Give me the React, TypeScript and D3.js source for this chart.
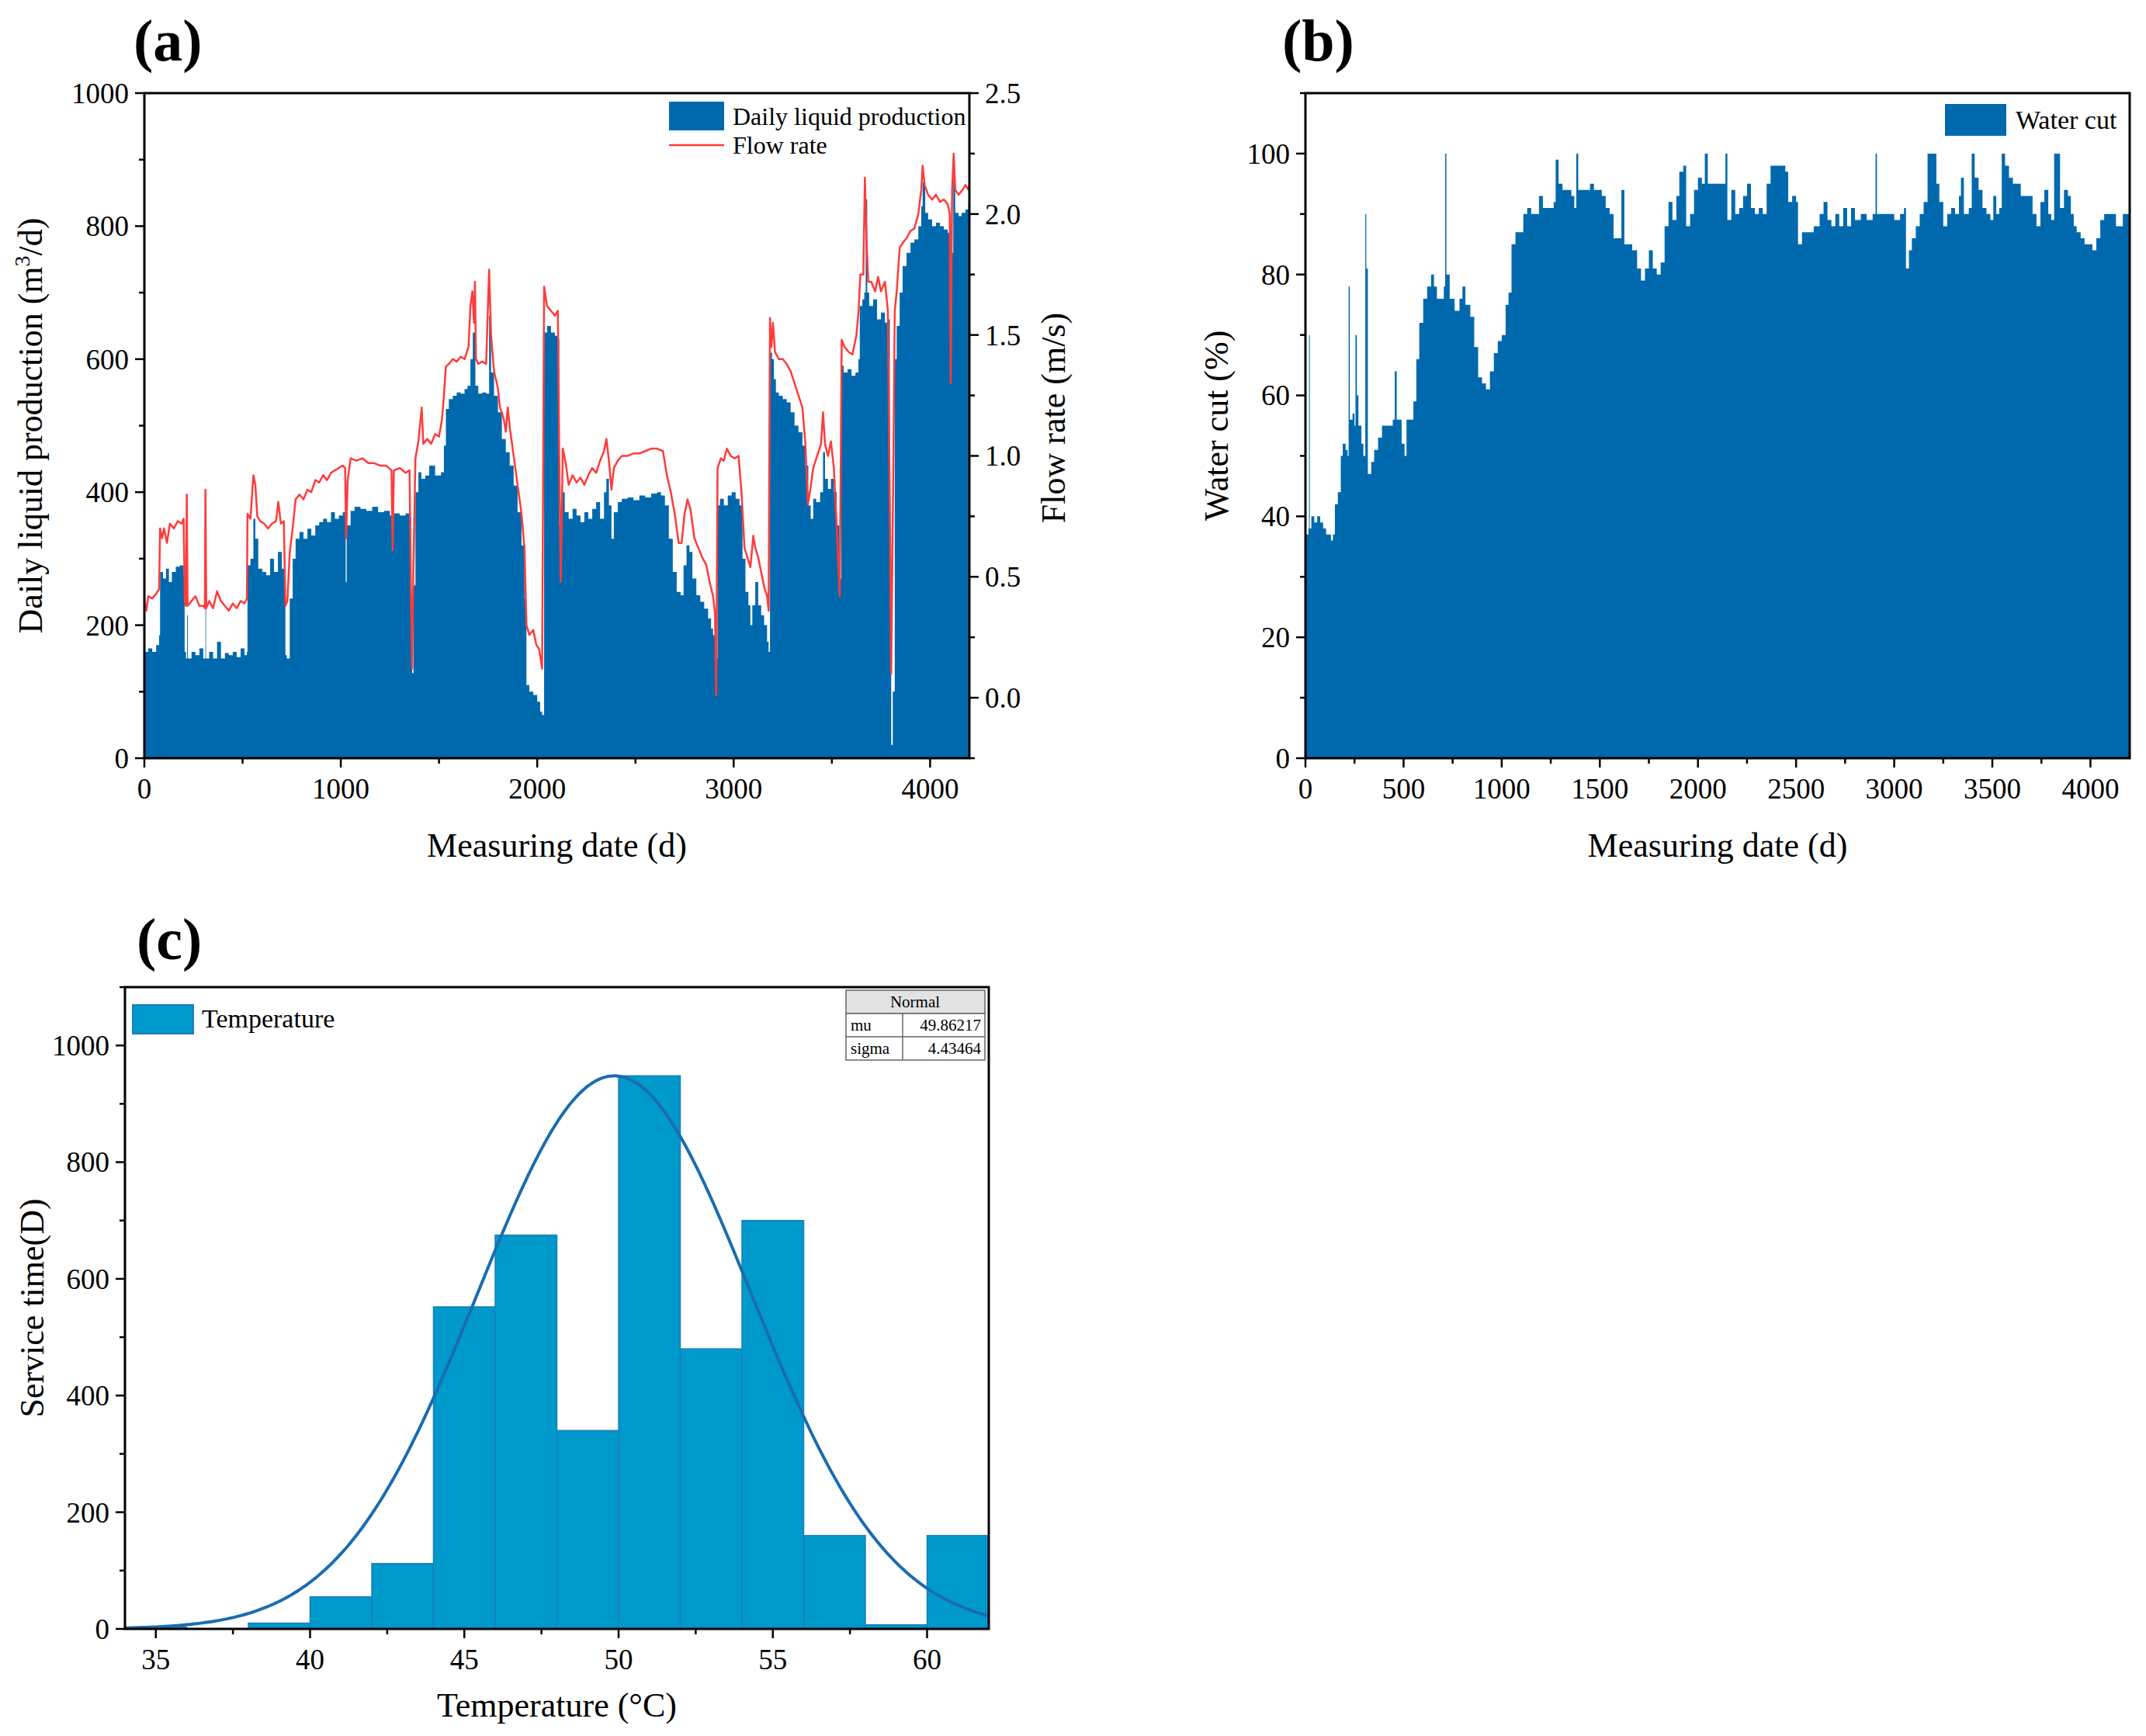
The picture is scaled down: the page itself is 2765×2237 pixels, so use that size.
import React from 'react';
import * as d3 from 'd3';

const FONT = '"Liberation Serif", "Times New Roman", serif';
const BLUE = '#0069ad';
const RED = '#ff3b3b';
const HIST = '#0099cb';
const HIST_EDGE = '#1c7db8';
const CURVE = '#1a6cb0';

// (a) daily liquid production, m3/d  [day, value]
const liquidProduction: [number, number][] = [
  [0, 160], [20, 165], [40, 160], [60, 170], [75, 185], [80, 280], [95, 270], [110, 285], [125, 265], [140, 280],
  [160, 288], [180, 290], [200, 275], [205, 160], [212, 150], [218, 215], [222, 150], [240, 160], [260, 155], [280, 165],
  [300, 150], [308, 150], [311, 240], [314, 150], [330, 160], [350, 150], [370, 175], [390, 150], [410, 158], [430, 155],
  [450, 160], [470, 152], [490, 165], [510, 155], [522, 160], [525, 290], [540, 300], [555, 360], [565, 330], [580, 285],
  [600, 280], [620, 275], [640, 300], [660, 280], [680, 310], [700, 285], [712, 280], [718, 155], [725, 150], [740, 240],
  [755, 300], [770, 330], [790, 340], [810, 330], [830, 345], [850, 335], [870, 350], [890, 355], [910, 360], [930, 355],
  [950, 370], [970, 360], [990, 365], [1010, 370], [1025, 265], [1030, 350], [1050, 372], [1070, 378], [1100, 375], [1130, 372],
  [1160, 378], [1190, 370], [1220, 372], [1250, 365], [1270, 368], [1300, 365], [1330, 368], [1350, 362], [1358, 200], [1363, 128],
  [1370, 260], [1380, 400], [1395, 430], [1410, 420], [1430, 425], [1450, 440], [1480, 425], [1510, 430], [1525, 470], [1535, 525],
  [1550, 540], [1570, 545], [1590, 550], [1610, 548], [1630, 555], [1645, 560], [1660, 600], [1672, 640], [1685, 560], [1700, 548],
  [1720, 550], [1740, 548], [1755, 665], [1765, 580], [1780, 545], [1800, 520], [1820, 480], [1840, 460], [1860, 440], [1880, 410],
  [1900, 370], [1920, 320], [1935, 240], [1945, 110], [1960, 100], [1980, 95], [2000, 85], [2015, 70], [2025, 65], [2035, 640],
  [2050, 650], [2070, 640], [2090, 635], [2105, 630], [2112, 350], [2118, 300], [2125, 400], [2140, 370], [2160, 360], [2180, 375],
  [2200, 365], [2220, 355], [2240, 370], [2260, 360], [2280, 375], [2300, 385], [2320, 360], [2340, 400], [2352, 420], [2365, 380],
  [2378, 330], [2390, 370], [2410, 385], [2430, 390], [2460, 392], [2490, 388], [2520, 395], [2550, 392], [2580, 398], [2610, 400],
  [2630, 395], [2650, 380], [2670, 330], [2690, 280], [2710, 250], [2730, 245], [2745, 290], [2760, 320], [2775, 310], [2790, 270],
  [2810, 245], [2830, 235], [2850, 225], [2870, 210], [2885, 195], [2895, 185], [2905, 175], [2912, 150], [2918, 380], [2930, 390],
  [2950, 380], [2970, 395], [2990, 400], [3010, 390], [3030, 380], [3045, 300], [3060, 250], [3075, 230], [3085, 200], [3095, 230],
  [3110, 265], [3125, 230], [3140, 215], [3155, 200], [3170, 175], [3178, 160], [3185, 610], [3195, 600], [3205, 570], [3215, 550],
  [3230, 545], [3250, 540], [3270, 535], [3290, 520], [3310, 500], [3330, 490], [3350, 470], [3365, 440], [3380, 380], [3392, 360],
  [3405, 390], [3420, 385], [3440, 400], [3455, 460], [3465, 420], [3480, 405], [3495, 420], [3510, 400], [3525, 350], [3538, 270],
  [3548, 590], [3560, 580], [3580, 585], [3600, 575], [3620, 580], [3635, 600], [3642, 680], [3655, 690], [3665, 700], [3672, 840],
  [3680, 700], [3690, 680], [3710, 690], [3730, 660], [3750, 670], [3770, 655], [3785, 660], [3795, 300], [3802, 20], [3810, 100],
  [3820, 600], [3830, 650], [3845, 700], [3860, 740], [3880, 760], [3900, 775], [3920, 780], [3940, 800], [3955, 830], [3962, 866],
  [3975, 820], [3990, 810], [4010, 800], [4030, 805], [4050, 800], [4070, 795], [4090, 790], [4100, 780], [4108, 760], [4118, 874],
  [4128, 820], [4145, 815], [4160, 820], [4180, 825], [4195, 832], [4200, 830],
];

// (a) flow rate, m/s  [day, value]
const flowRate: [number, number][] = [
  [0, 0.40], [10, 0.36], [20, 0.42], [40, 0.41], [60, 0.43], [75, 0.45], [80, 0.70], [90, 0.66], [100, 0.70], [115, 0.64],
  [130, 0.72], [150, 0.70], [170, 0.73], [190, 0.72], [200, 0.74], [206, 0.40], [212, 0.38], [216, 0.84], [220, 0.38], [240, 0.40],
  [260, 0.42], [280, 0.38], [300, 0.38], [308, 0.37], [311, 0.86], [315, 0.37], [330, 0.40], [350, 0.37], [370, 0.44], [390, 0.40],
  [410, 0.38], [430, 0.36], [450, 0.39], [470, 0.37], [490, 0.40], [510, 0.39], [522, 0.41], [525, 0.76], [540, 0.74], [555, 0.92],
  [565, 0.88], [575, 0.75], [590, 0.73], [610, 0.72], [630, 0.70], [650, 0.72], [670, 0.73], [682, 0.81], [695, 0.72], [710, 0.73],
  [718, 0.38], [728, 0.40], [740, 0.60], [755, 0.70], [770, 0.82], [790, 0.84], [810, 0.82], [830, 0.86], [850, 0.85], [870, 0.90],
  [890, 0.89], [910, 0.92], [930, 0.90], [950, 0.93], [970, 0.94], [990, 0.95], [1010, 0.96], [1022, 0.95], [1027, 0.66], [1035, 0.90],
  [1050, 0.99], [1080, 0.98], [1110, 0.99], [1140, 0.97], [1170, 0.97], [1200, 0.96], [1230, 0.96], [1258, 0.94], [1264, 0.61], [1270, 0.94],
  [1300, 0.95], [1330, 0.93], [1350, 0.94], [1358, 0.40], [1363, 0.12], [1370, 0.55], [1380, 0.99], [1395, 1.06], [1412, 1.20], [1420, 1.05],
  [1440, 1.07], [1460, 1.05], [1480, 1.09], [1500, 1.08], [1515, 1.15], [1525, 1.25], [1535, 1.37], [1550, 1.38], [1570, 1.40], [1590, 1.39],
  [1610, 1.41], [1630, 1.40], [1650, 1.45], [1660, 1.62], [1670, 1.68], [1678, 1.55], [1683, 1.72], [1688, 1.40], [1700, 1.38], [1720, 1.39],
  [1740, 1.38], [1755, 1.77], [1765, 1.50], [1780, 1.35], [1800, 1.28], [1810, 1.20], [1820, 1.18], [1830, 1.15], [1840, 1.10], [1850, 1.20],
  [1860, 1.12], [1880, 1.00], [1900, 0.88], [1920, 0.76], [1935, 0.62], [1945, 0.30], [1960, 0.26], [1980, 0.28], [1995, 0.22], [2010, 0.20],
  [2025, 0.12], [2035, 1.70], [2050, 1.62], [2070, 1.60], [2090, 1.58], [2105, 1.60], [2112, 1.00], [2120, 0.48], [2130, 1.03], [2145, 0.97],
  [2160, 0.88], [2180, 0.92], [2200, 0.89], [2220, 0.91], [2240, 0.88], [2260, 0.92], [2280, 0.95], [2300, 0.93], [2320, 0.98], [2340, 1.02],
  [2352, 1.07], [2365, 0.98], [2378, 0.86], [2390, 0.95], [2410, 0.98], [2430, 1.00], [2460, 1.00], [2490, 1.01], [2520, 1.01], [2550, 1.02],
  [2580, 1.03], [2610, 1.03], [2640, 1.02], [2660, 0.92], [2680, 0.85], [2700, 0.76], [2720, 0.64], [2735, 0.64], [2750, 0.76], [2765, 0.82],
  [2780, 0.78], [2800, 0.66], [2820, 0.62], [2840, 0.58], [2860, 0.55], [2880, 0.47], [2895, 0.42], [2905, 0.35], [2911, 0.01], [2918, 0.95],
  [2935, 0.99], [2950, 0.98], [2965, 1.03], [2985, 1.00], [3005, 0.99], [3025, 1.00], [3040, 0.85], [3055, 0.62], [3070, 0.58], [3085, 0.54],
  [3100, 0.67], [3110, 0.62], [3125, 0.58], [3140, 0.52], [3155, 0.46], [3170, 0.42], [3178, 0.36], [3185, 1.57], [3192, 1.45], [3200, 1.55],
  [3210, 1.43], [3230, 1.40], [3250, 1.40], [3270, 1.38], [3290, 1.35], [3310, 1.30], [3330, 1.25], [3350, 1.20], [3365, 1.05], [3378, 0.80],
  [3390, 0.86], [3405, 0.95], [3425, 1.00], [3445, 1.05], [3455, 1.18], [3465, 1.05], [3480, 1.00], [3495, 1.06], [3510, 0.95], [3525, 0.70],
  [3540, 0.42], [3550, 1.48], [3565, 1.45], [3585, 1.43], [3605, 1.42], [3625, 1.50], [3636, 1.60], [3645, 1.75], [3660, 1.75], [3668, 2.15],
  [3676, 1.90], [3685, 1.72], [3700, 1.72], [3720, 1.68], [3735, 1.74], [3750, 1.68], [3770, 1.72], [3785, 1.60], [3795, 0.80], [3802, 0.10],
  [3812, 0.90], [3820, 1.60], [3830, 1.68], [3845, 1.86], [3860, 1.88], [3880, 1.90], [3900, 1.93], [3920, 1.94], [3940, 2.00], [3955, 2.10],
  [3962, 2.20], [3972, 2.12], [3990, 2.08], [4010, 2.06], [4030, 2.08], [4050, 2.05], [4070, 2.06], [4090, 2.04], [4100, 2.00], [4105, 1.30],
  [4112, 2.10], [4120, 2.25], [4128, 2.10], [4145, 2.08], [4165, 2.10], [4180, 2.12], [4195, 2.10], [4200, 2.12],
];

// (b) water cut, %  [day, value]
const waterCut: [number, number][] = [
  [0, 37], [15, 38], [18, 70], [22, 38], [30, 40], [45, 39], [60, 40], [75, 39], [90, 38], [105, 37], [120, 37], [130, 36], [140, 37],
  [150, 42], [165, 44], [180, 50], [190, 52], [205, 51], [215, 50], [220, 78], [226, 56], [240, 57], [250, 55], [255, 70], [262, 60],
  [270, 55], [285, 52], [295, 50], [305, 90], [310, 81], [318, 47], [335, 49], [350, 51], [370, 53], [390, 55], [420, 55], [445, 56],
  [455, 64], [465, 56], [490, 52], [505, 50], [515, 56], [535, 56], [550, 59], [565, 66], [580, 72], [600, 76], [620, 78], [640, 80],
  [655, 78], [670, 76], [690, 76], [705, 78], [712, 100], [718, 80], [735, 76], [760, 74], [785, 76], [800, 78], [815, 75], [840, 73],
  [860, 68], [880, 63], [900, 62], [920, 61], [940, 64], [960, 67], [980, 69], [1000, 70], [1020, 75], [1035, 77], [1050, 85], [1070, 87],
  [1090, 87], [1110, 90], [1130, 91], [1150, 90], [1170, 90], [1190, 93], [1210, 91], [1240, 91], [1265, 92], [1275, 99], [1290, 95],
  [1310, 94], [1330, 94], [1355, 93], [1370, 91], [1380, 100], [1390, 94], [1410, 94], [1430, 94], [1450, 95], [1470, 94], [1490, 94],
  [1510, 93], [1530, 91], [1550, 90], [1570, 86], [1590, 86], [1610, 94], [1625, 85], [1645, 85], [1665, 84], [1690, 81], [1710, 79],
  [1730, 81], [1750, 84], [1770, 81], [1790, 80], [1810, 82], [1830, 88], [1850, 92], [1870, 89], [1890, 93], [1905, 97], [1925, 98],
  [1940, 88], [1960, 90], [1980, 94], [2000, 96], [2020, 95], [2035, 100], [2050, 95], [2080, 95], [2110, 95], [2130, 95], [2140, 100],
  [2150, 89], [2170, 94], [2190, 90], [2210, 91], [2230, 93], [2250, 95], [2270, 91], [2290, 90], [2310, 91], [2330, 90], [2350, 95],
  [2370, 98], [2400, 98], [2430, 98], [2445, 97], [2460, 92], [2480, 93], [2500, 92], [2510, 85], [2530, 87], [2560, 87], [2590, 88],
  [2620, 90], [2640, 92], [2660, 89], [2680, 88], [2700, 90], [2720, 88], [2740, 91], [2760, 88], [2780, 91], [2800, 89], [2830, 90],
  [2860, 89], [2890, 90], [2905, 100], [2912, 90], [2940, 90], [2970, 90], [3000, 89], [3030, 90], [3050, 91], [3060, 81], [3075, 84],
  [3090, 86], [3110, 88], [3130, 90], [3150, 92], [3170, 100], [3200, 100], [3215, 95], [3230, 92], [3250, 88], [3270, 90], [3290, 91],
  [3310, 90], [3330, 93], [3340, 96], [3355, 90], [3380, 91], [3395, 100], [3410, 96], [3430, 94], [3450, 91], [3470, 90], [3490, 89],
  [3505, 93], [3520, 90], [3535, 91], [3548, 100], [3565, 98], [3585, 96], [3605, 95], [3625, 95], [3645, 93], [3665, 93], [3685, 93],
  [3705, 90], [3725, 88], [3745, 92], [3765, 94], [3785, 90], [3800, 89], [3815, 100], [3830, 100], [3845, 91], [3865, 94], [3885, 93],
  [3900, 90], [3915, 88], [3930, 87], [3950, 86], [3970, 85], [3990, 85], [4010, 84], [4030, 86], [4050, 89], [4070, 90], [4090, 90],
  [4110, 90], [4130, 88], [4150, 88], [4165, 90], [4185, 90], [4200, 90],
];

// (c) temperature histogram, 2 °C bins
const tempBinStart = [34, 36, 38, 40, 42, 44, 46, 48, 50, 52, 54, 56, 58, 60];
const serviceTime = [3, 0, 10, 55, 112, 552, 675, 340, 948, 480, 700, 160, 7, 160];
const binWidth = 2;
const normalMu = 49.86217;
const normalSigma = 4.43464;
const normalPeak = 948;

const range = (a: number, b: number, s: number) => d3.range(a, b + s / 2, s);

type Lin = d3.ScaleLinear<number, number>;

const TICK = 12;
const MINOR = 7;

function BottomAxis({ x, y, major, minor, fmt, size = 37 }: { x: Lin; y: number; major: number[]; minor: number[]; fmt: (v: number) => string; size?: number }) {
  return (
    <g>
      {minor.map((v) => (
        <line key={'m' + v} x1={x(v)} x2={x(v)} y1={y} y2={y + MINOR} stroke="#000" strokeWidth={2.5} />
      ))}
      {major.map((v) => (
        <g key={v}>
          <line x1={x(v)} x2={x(v)} y1={y} y2={y + TICK} stroke="#000" strokeWidth={2.5} />
          <text x={x(v)} y={y + 52} textAnchor="middle" fontSize={size} fontFamily={FONT}>
            {fmt(v)}
          </text>
        </g>
      ))}
    </g>
  );
}

function SideAxis({ scale, x, major, minor, fmt, dir, size = 37 }: { scale: Lin; x: number; major: number[]; minor: number[]; fmt: (v: number) => string; dir: -1 | 1; size?: number }) {
  return (
    <g>
      {minor.map((v) => (
        <line key={'m' + v} x1={x} x2={x + dir * MINOR} y1={scale(v)} y2={scale(v)} stroke="#000" strokeWidth={2.5} />
      ))}
      {major.map((v) => (
        <g key={v}>
          <line x1={x} x2={x + dir * TICK} y1={scale(v)} y2={scale(v)} stroke="#000" strokeWidth={2.5} />
          <text
            x={x + dir * 20}
            y={scale(v)}
            dy="0.35em"
            textAnchor={dir < 0 ? 'end' : 'start'}
            fontSize={size}
            fontFamily={FONT}
          >
            {fmt(v)}
          </text>
        </g>
      ))}
    </g>
  );
}

function Frame({ l, r, t, b }: { l: number; r: number; t: number; b: number }) {
  return <rect x={l} y={t} width={r - l} height={b - t} fill="none" stroke="#000" strokeWidth={3} />;
}

const fmtInt = d3.format('d');
const fmt1 = d3.format('.1f');

export default function App() {
  // panel (a)
  const A = { l: 186, r: 1249, t: 120, b: 977 };
  const xA = d3.scaleLinear().domain([0, 4200]).range([A.l, A.r]);
  const yA = d3.scaleLinear().domain([0, 1000]).range([A.b, A.t]);
  const yA2 = d3.scaleLinear().domain([-0.25, 2.5]).range([A.b, A.t]);
  const liquidArea = d3
    .area<[number, number]>()
    .x((d) => xA(d[0]))
    .y0(A.b)
    .y1((d) => yA(d[1]))
    .curve(d3.curveStepAfter)(liquidProduction) as string;
  const flowLine = d3
    .line<[number, number]>()
    .x((d) => xA(d[0]))
    .y((d) => yA2(d[1]))(flowRate) as string;

  // panel (b)
  const B = { l: 1682, r: 2744, t: 120, b: 977 };
  const xB = d3.scaleLinear().domain([0, 4200]).range([B.l, B.r]);
  const yB = d3.scaleLinear().domain([0, 110]).range([B.b, B.t]);
  const waterArea = d3
    .area<[number, number]>()
    .x((d) => xB(d[0]))
    .y0(B.b)
    .y1((d) => yB(d[1]))
    .curve(d3.curveStepAfter)(waterCut) as string;

  // panel (c)
  const C = { l: 161, r: 1274, t: 1272, b: 2099 };
  const xC = d3.scaleLinear().domain([34, 62]).range([C.l, C.r]);
  const yC = d3.scaleLinear().domain([0, 1100]).range([C.b, C.t]);
  const curvePts = d3.range(34, 62.01, 0.1).map((t) => [t, normalPeak * Math.exp(-((t - normalMu) ** 2) / (2 * normalSigma ** 2))] as [number, number]);
  const normalLine = d3
    .line<[number, number]>()
    .x((d) => xC(d[0]))
    .y((d) => yC(d[1]))
    .curve(d3.curveBasis)(curvePts) as string;

  return (
    <svg width={2765} height={2237} style={{ position: 'absolute', left: 0, top: 0, background: '#fff' }} fontFamily={FONT}>
      <defs>
        <clipPath id="clipA"><rect x={A.l} y={A.t} width={A.r - A.l} height={A.b - A.t} /></clipPath>
        <clipPath id="clipB"><rect x={B.l} y={B.t} width={B.r - B.l} height={B.b - B.t} /></clipPath>
        <clipPath id="clipC"><rect x={C.l} y={C.t} width={C.r - C.l} height={C.b - C.t} /></clipPath>
      </defs>
      <rect width={2765} height={2237} fill="#fff" />

      {/* (a) */}
      <text x={172} y={78} fontSize={76} fontWeight="bold">(a)</text>
      <g clipPath="url(#clipA)">
        <path d={liquidArea} fill={BLUE} />
        <path d={flowLine} fill="none" stroke={RED} strokeWidth={2.5} strokeLinejoin="round" />
      </g>
      <Frame {...A} />
      <BottomAxis x={xA} y={A.b} major={range(0, 4000, 1000)} minor={range(500, 3500, 1000).concat([4500].filter((v) => v <= 4200))} fmt={fmtInt} />
      <SideAxis scale={yA} x={A.l} dir={-1} major={range(0, 1000, 200)} minor={range(100, 900, 200)} fmt={fmtInt} />
      <SideAxis scale={yA2} x={A.r} dir={1} major={range(0, 2.5, 0.5)} minor={range(-0.25, 2.25, 0.5)} fmt={fmt1} />
      <text x={(A.l + A.r) / 2} y={1104} textAnchor="middle" fontSize={44}>Measuring date (d)</text>
      <text transform={`translate(54, ${(A.t + A.b) / 2}) rotate(-90)`} textAnchor="middle" fontSize={44}>
        Daily liquid production (m<tspan fontSize={28} dy={-16}>3</tspan><tspan dy={16}>/d)</tspan>
      </text>
      <text transform={`translate(1372, ${(A.t + A.b) / 2 - 10}) rotate(-90)`} textAnchor="middle" fontSize={44}>Flow rate (m/s)</text>
      <rect x={862} y={131} width={71} height={37} fill={BLUE} />
      <text x={944} y={161} fontSize={32}>Daily liquid production</text>
      <line x1={862} x2={933} y1={187} y2={187} stroke={RED} strokeWidth={2.5} />
      <text x={944} y={198} fontSize={32}>Flow rate</text>

      {/* (b) */}
      <text x={1652} y={78} fontSize={76} fontWeight="bold">(b)</text>
      <g clipPath="url(#clipB)">
        <path d={waterArea} fill={BLUE} />
      </g>
      <Frame {...B} />
      <BottomAxis x={xB} y={B.b} major={range(0, 4000, 500)} minor={range(250, 4000, 500)} fmt={fmtInt} />
      <SideAxis scale={yB} x={B.l} dir={-1} major={range(0, 100, 20)} minor={range(10, 110, 20)} fmt={fmtInt} />
      <text x={(B.l + B.r) / 2} y={1104} textAnchor="middle" fontSize={44}>Measuring date (d)</text>
      <text transform={`translate(1582, ${(B.t + B.b) / 2}) rotate(-90)`} textAnchor="middle" fontSize={44}>Water cut (%)</text>
      <rect x={2506} y={134} width={79} height={41} fill={BLUE} />
      <text x={2597} y={166} fontSize={34}>Water cut</text>

      {/* (c) */}
      <text x={176} y={1236} fontSize={76} fontWeight="bold">(c)</text>
      <g clipPath="url(#clipC)">
        {tempBinStart.map((t, i) =>
          serviceTime[i] > 0 ? (
            <rect
              key={t}
              x={xC(t)}
              y={yC(serviceTime[i])}
              width={xC(t + binWidth) - xC(t)}
              height={C.b - yC(serviceTime[i])}
              fill={HIST}
              stroke={HIST_EDGE}
              strokeWidth={1.5}
            />
          ) : null
        )}
        <path d={normalLine} fill="none" stroke={CURVE} strokeWidth={4} />
      </g>
      <Frame {...C} />
      <BottomAxis x={xC} y={C.b} major={range(35, 60, 5)} minor={range(37.5, 60, 5)} fmt={fmtInt} />
      <SideAxis scale={yC} x={C.l} dir={-1} major={range(0, 1000, 200)} minor={range(100, 1100, 200)} fmt={fmtInt} />
      <text x={(C.l + C.r) / 2} y={2212} textAnchor="middle" fontSize={44}>Temperature (°C)</text>
      <text transform={`translate(56, ${(C.t + C.b) / 2}) rotate(-90)`} textAnchor="middle" fontSize={44}>Service time(D)</text>
      <rect x={171} y={1295} width={78} height={37} fill={HIST} stroke={HIST_EDGE} strokeWidth={2} />
      <text x={260} y={1324} fontSize={34}>Temperature</text>
      <g fontSize={21}>
        <rect x={1090} y={1276} width={179} height={30} fill="#e3e3e3" stroke="#666" strokeWidth={1.5} />
        <rect x={1090} y={1306} width={179} height={60} fill="#fff" stroke="#666" strokeWidth={1.5} />
        <line x1={1090} x2={1269} y1={1336} y2={1336} stroke="#666" strokeWidth={1.5} />
        <line x1={1163} x2={1163} y1={1306} y2={1366} stroke="#666" strokeWidth={1.5} />
        <text x={1179} y={1298} textAnchor="middle">Normal</text>
        <text x={1096} y={1328}>mu</text>
        <text x={1264} y={1328} textAnchor="end">{normalMu.toFixed(5)}</text>
        <text x={1096} y={1358}>sigma</text>
        <text x={1264} y={1358} textAnchor="end">{normalSigma.toFixed(5)}</text>
      </g>
    </svg>
  );
}
